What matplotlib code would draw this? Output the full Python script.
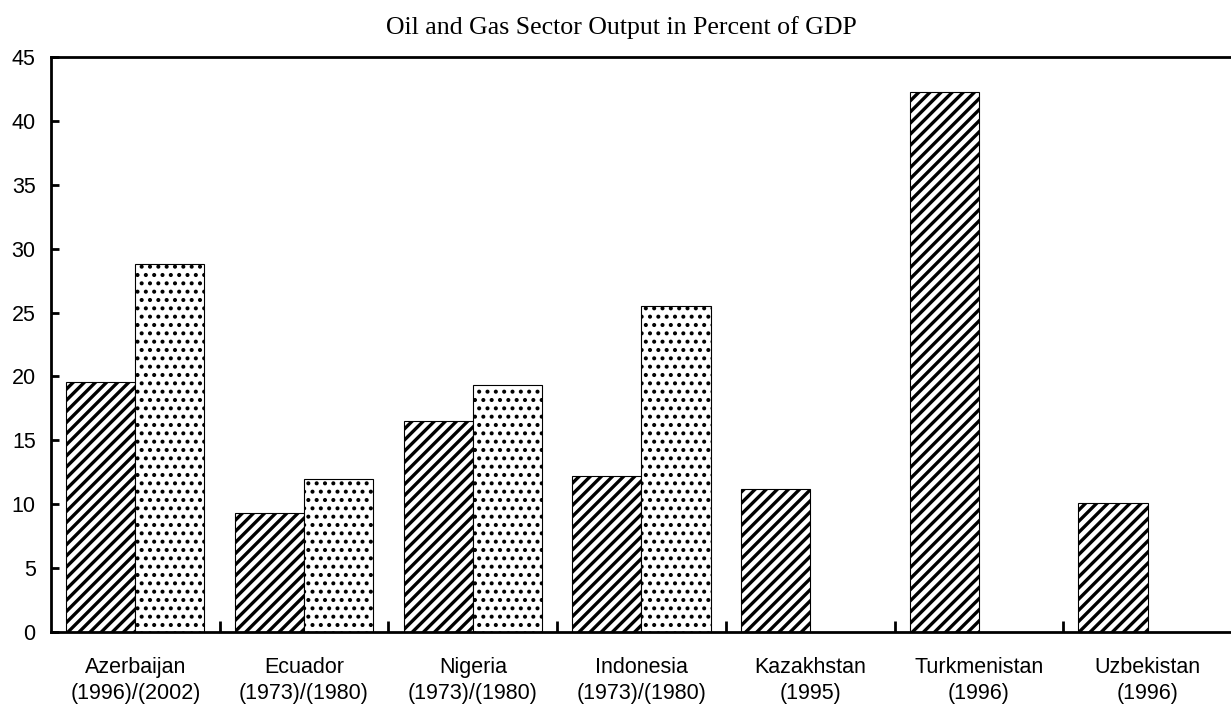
import matplotlib.pyplot as plt
import numpy as np

# Data
countries = ["Azerbaijan\n(1996)/(2002)", "Ecuador\n(1973)/(1980)", "Nigeria\n(1973)/(1980)",
             "Indonesia\n(1973)/(1980)", "Kazakhstan\n(1995)", "Turkmenistan\n(1996)",
             "Uzbekistan\n(1996)"]
first_year = [19.6, 9.3, 16.5, 12.2, 11.2, 42.3, 10.1]
second_year = [28.8, 12.0, 19.3, 25.5]

fig = plt.figure(figsize=(12.31, 7.11), dpi=100)
ax = fig.add_axes([0.0414, 0.1111, 0.9594, 0.8087])

x = np.arange(len(countries))
w = 0.41

# First period (hatched)
plt.rcParams["hatch.linewidth"] = 2.4
ax.bar(x - w / 2, first_year, width=w, color="white", edgecolor="black",
       hatch="///", linewidth=0.8)

# Second period (dotted)
plt.rcParams["hatch.linewidth"] = 1.7
ax.bar(x[:len(second_year)] + w / 2, second_year, width=w, color="white",
       edgecolor="black", hatch="..", linewidth=0.8)

# Axes setup
ax.set_xlim(-0.5, len(countries) - 0.5)
ax.set_ylim(0, 45)
ax.set_yticks(range(0, 46, 5))
ax.set_xticks(x)
ax.set_xticklabels(countries, fontsize=15.5, family="Liberation Sans", linespacing=1.3)
ax.set_xticks(x[:-1] + 0.5, minor=True)
ax.tick_params(axis="x", which="major", length=0, pad=18)
ax.tick_params(axis="x", which="minor", direction="in", length=8, width=2)
ax.tick_params(axis="y", direction="in", length=6, width=2, pad=11)
for lbl in ax.get_yticklabels():
    lbl.set_fontsize(15.5)
    lbl.set_family("Liberation Sans")

for side in ["left", "top", "bottom"]:
    ax.spines[side].set_linewidth(2)
ax.spines["right"].set_visible(False)

fig.text(0.505, 0.962, "Oil and Gas Sector Output in Percent of GDP",
         ha="center", va="center", fontsize=18.6, family="Liberation Serif")

plt.savefig("out.png", dpi=100)
